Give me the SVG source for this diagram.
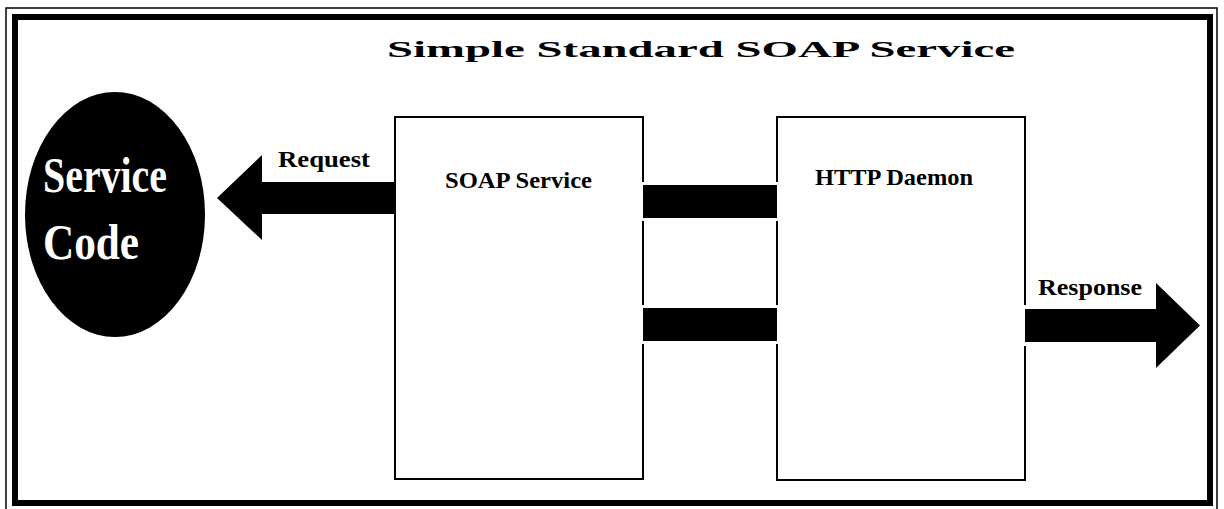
<svg xmlns="http://www.w3.org/2000/svg" width="1224" height="509" viewBox="0 0 1224 509">
<style>
.lbl{font-family:"Liberation Serif","Times New Roman",serif;font-weight:bold;fill:#000}
.box{fill:#fff;stroke:#000;stroke-width:2}
.gap{fill:#fff}
.bar{fill:#000}
</style>
<rect x="0" y="0" width="1224" height="509" fill="#fff"/>
<g id="frame">
<rect x="6" y="8" width="1211" height="503" fill="none" stroke="#000" stroke-width="1.5"/>
<rect x="15" y="17" width="1195" height="486" fill="none" stroke="#000" stroke-width="6"/>
</g>
<text id="title" class="lbl" x="387" y="57" font-size="23" textLength="628" lengthAdjust="spacingAndGlyphs">Simple Standard SOAP Service</text>
<g id="service-code">
<ellipse cx="115" cy="214.5" rx="90" ry="122.5" fill="#000"/>
<text class="lbl" x="43" y="192" font-size="50" fill="#fff" style="fill:#fff" textLength="124" lengthAdjust="spacingAndGlyphs">Service</text>
<text class="lbl" x="43" y="259" font-size="50" style="fill:#fff" textLength="96" lengthAdjust="spacingAndGlyphs">Code</text>
</g>
<g id="soap-service">
<rect class="box" x="395" y="117" width="248" height="362"/>
<text class="lbl" x="445" y="188" font-size="24" textLength="147" lengthAdjust="spacingAndGlyphs">SOAP Service</text>
</g>
<g id="http-daemon">
<rect class="box" x="777" y="117" width="248" height="363"/>
<text class="lbl" x="815" y="185" font-size="24" textLength="158" lengthAdjust="spacingAndGlyphs">HTTP Daemon</text>
</g>
<g id="connectors">
<rect class="gap" x="638" y="182" width="144" height="39"/>
<rect class="bar" x="643" y="185" width="134" height="33"/>
<rect class="gap" x="638" y="305" width="144" height="39"/>
<rect class="bar" x="643" y="308" width="134" height="33"/>
<polygon class="bar" points="217,198 262,155 262,182 395,182 395,214 262,214 262,240"/>
<text class="lbl" x="278" y="167" font-size="24" textLength="92" lengthAdjust="spacingAndGlyphs">Request</text>
<rect class="gap" x="1020" y="305" width="10" height="41"/>
<polygon class="bar" points="1025,309 1156,309 1156,283 1200,325.5 1156,368 1156,342 1025,342"/>
<text class="lbl" x="1038" y="295" font-size="24" textLength="104" lengthAdjust="spacingAndGlyphs">Response</text>
</g>
</svg>
